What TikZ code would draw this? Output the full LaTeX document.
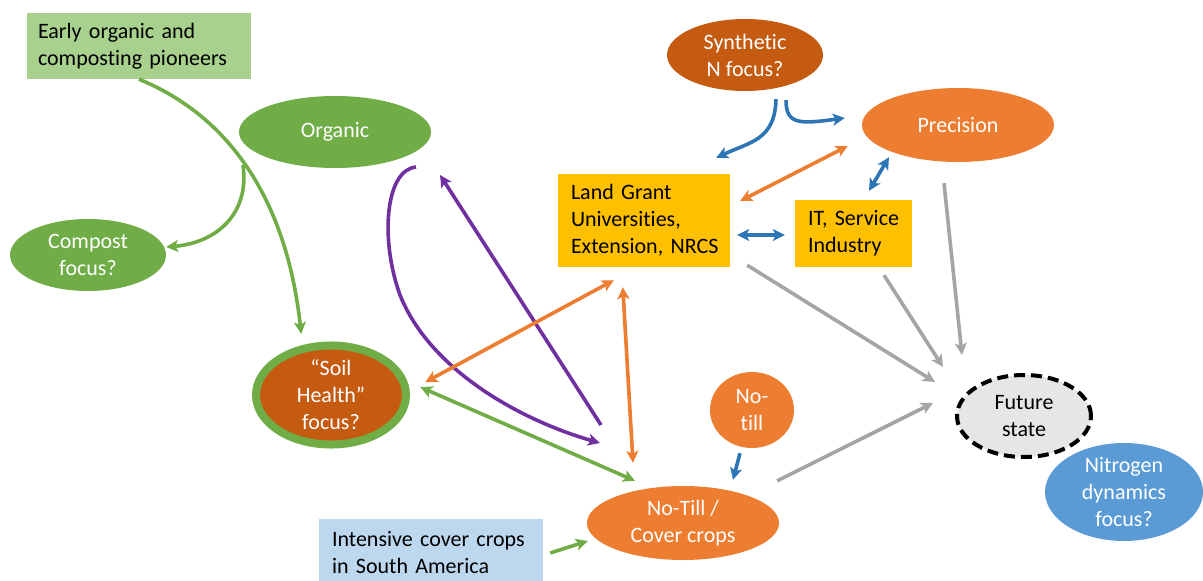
\documentclass[tikz,border=0pt]{standalone}
\usepackage{fontspec}
\setmainfont{Carlito}[Ligatures=NoCommon]
\usetikzlibrary{shapes.geometric,arrows.meta,calc}
\definecolor{cgreen}{HTML}{70AD47}
\definecolor{clgreen}{HTML}{A9D18E}
\definecolor{cdorange}{HTML}{C55A11}
\definecolor{corange}{HTML}{ED7D31}
\definecolor{cgold}{HTML}{FFC000}
\definecolor{clblue}{HTML}{BDD7EE}
\definecolor{cblue}{HTML}{5B9BD5}
\definecolor{cablue}{HTML}{2E75B6}
\definecolor{cpurple}{HTML}{7030A0}
\definecolor{cgray}{HTML}{A5A5A5}
\definecolor{cfuture}{HTML}{E7E6E6}
\tikzset{
  txt/.style={font=\fontsize{22}{27}\selectfont},
  ell/.style={txt, ellipse, inner sep=0pt, align=center, text=white},
  boxn/.style={txt, rectangle, inner sep=0pt, align=left, text=black},
  arr/.style={line width=3.6pt, -{Stealth[length=12pt,width=12pt,inset=3pt]}},
  darr/.style={line width=3.6pt, {Stealth[length=12pt,width=12pt,inset=3pt]}-{Stealth[length=12pt,width=12pt,inset=3pt]}}
}
\begin{document}
\begin{tikzpicture}[x=1pt,y=-1pt]
\useasboundingbox (0,0) rectangle (1203,581);
% nodes
\node[boxn, fill=clgreen, minimum width=224pt, minimum height=66pt, text width=202pt] (early) at (139,46) {Early organic and\\composting pioneers};
\node[ell, fill=cgreen, minimum width=192pt, minimum height=72pt] (organic) at (335,132) {Organic};
\node[ell, fill=cgreen, minimum width=156pt, minimum height=72pt] (compost) at (88,255) {Compost\\focus?};
\node[ell, fill=cdorange, draw=cgreen, line width=8pt, minimum width=150pt, minimum height=97pt] (soil) at (331,395) {“Soil\\Health”\\focus?};
\node[ell, fill=cdorange, minimum width=156pt, minimum height=72pt] (synth) at (745,55) {Synthetic\\N focus?};
\node[ell, fill=corange, minimum width=192pt, minimum height=74pt] (prec) at (958,125) {Precision};
\node[fill=cgold, minimum width=172pt, minimum height=93pt, inner sep=0pt] (lg) at (644,220.5) {};
\node[boxn, text width=160pt] (lgtext) at ($(lg.center)+(7,0)$) {Land Grant\\Universities,\\Extension, NRCS};
\node[fill=cgold, minimum width=117pt, minimum height=67pt, inner sep=0pt] (it) at (853.5,233.5) {};
\node[boxn, text width=100pt] (ittext) at ($(it.center)+(4.5,0)$) {IT, Service\\Industry};
\node[ell, fill=corange, minimum width=84pt, minimum height=76pt] (notill) at (752,410) {No-\\till};
\node[ell, fill=corange, minimum width=192pt, minimum height=74pt] (nc) at (683,523) {No-Till /\\Cover crops};
\node[boxn, fill=clblue, minimum width=224pt, minimum height=68pt, text width=198pt] (icc) at (431,553) {Intensive cover crops\\in South America};
\node[ell, fill=cfuture, draw=black, line width=4pt, dash pattern=on 11pt off 6pt, text=black, minimum width=134pt, minimum height=82pt] (future) at (1024,416) {Future\\state};
\node[ell, fill=cblue, minimum width=158pt, minimum height=98pt] (nitro) at (1124,492) {Nitrogen\\dynamics\\focus?};
% free ends
\coordinate (br) at (243,165);
\coordinate (pa) at (416,167);
\coordinate (pb) at (600,443);
\coordinate (pc) at (601,425);
\coordinate (pd) at (440,175);
\coordinate (fa) at (933,403);
\coordinate (fb) at (935,382);
\coordinate (fc) at (943,367);
\coordinate (fd) at (962,355);
% connectors
\draw[cgreen, arr] (early.south) .. controls (250,125) and (290,230) .. ($(soil.115)+(-6,-10)$);
\draw[cgreen, arr] (br) .. controls (250,215) and (215,243) .. ($(compost.east)+(0,-8)$);
\draw[cpurple, arr] (pa) .. controls (385,170) and (380,240) .. (400,295) .. controls (430,370) and (520,420) .. (pb);
\draw[cpurple, arr] (pc) -- (pd);
\draw[corange, darr] ($(soil.8)+(17,-2)$) -- ($(lg.south west)+(56,13)$);
\draw[corange, darr] ($(lg.south west)+(65,20)$) -- ($(nc.north)+(-50,-23)$);
\draw[cgreen, darr] ($(soil.5)+(11,-1)$) -- ($(nc.north)+(-48,-5)$);
\draw[cgreen, arr] ($(icc.east)+(7,0)$) -- ($(nc.west)+(1,18)$);
\draw[cablue, arr] ($(notill.south)+(-12,5)$) -- ($(nc.north)+(50,-6)$);
\draw[cgray, arr] ($(nc.24)+(31,-14)$) -- (fa);
\draw[cgray, arr] ($(lg.south east)+(17,-2)$) -- (fb);
\draw[cgray, arr] ($(it.south)+(30.5,8)$) -- (fc);
\draw[cgray, arr] ($(prec.south)+(-14,21)$) -- (fd);
\draw[cablue, darr] ($(lg.east)+(7,14.5)$) -- ($(it.west)+(-10,1.5)$);
\draw[cablue, darr] ($(it.north)+(15.5,-9)$) -- ($(prec.south)+(-69,-5)$);
\draw[corange, darr] ($(lg.east)+(10,-19.5)$) -- ($(prec.west)+(-14,21)$);
\draw[cablue, arr] ($(synth.south)+(31,8)$) .. controls (775,140) and (750,142) .. ($(lg.north east)+(-14,-16)$);
\draw[cablue, arr] ($(synth.south)+(41,9)$) .. controls (786,125) and (800,124) .. ($(prec.west)+(-17,-7)$);
\end{tikzpicture}
\end{document}
